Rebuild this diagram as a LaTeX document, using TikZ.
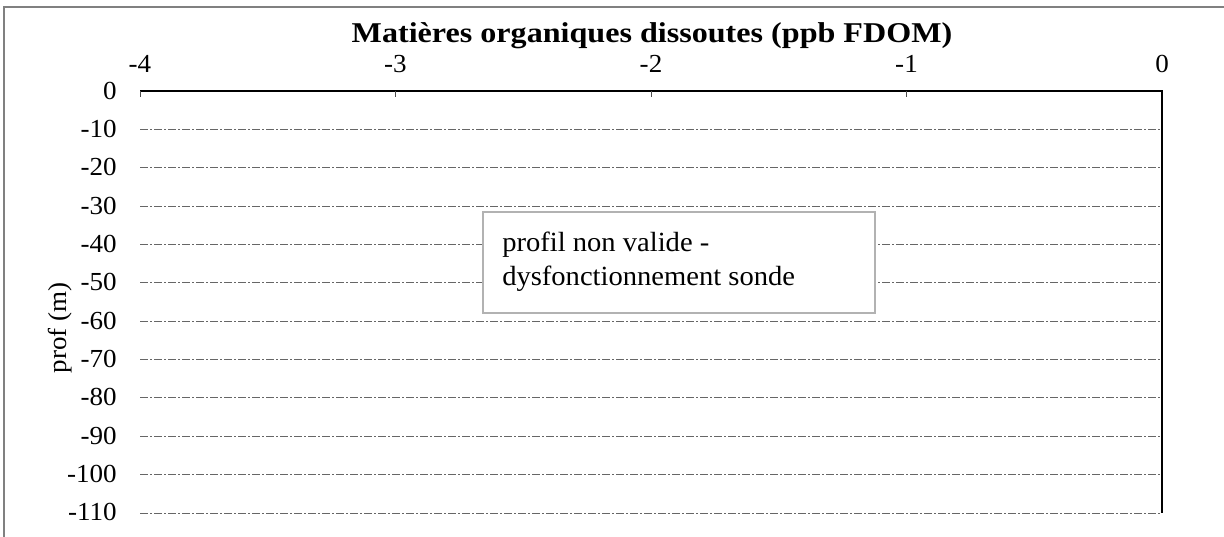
\documentclass[tikz,border=0pt]{standalone}
\usepackage{fontspec}
\setmainfont{Liberation Serif}[FakeStretch=1.04]
\newfontfamily\titlefont{Liberation Serif}[FakeStretch=1.12]
\newfontfamily\boxfont{Liberation Serif}[FakeStretch=1.03]
\begin{document}
\begin{tikzpicture}[x=0.75pt,y=-0.75pt,
  gridline/.style={gray!80!black,line width=0.6pt,dash pattern=on 6pt off 1.5pt on 1.5pt off 1.5pt},
  ticklab/.style={font=\fontsize{19.5}{22}\selectfont,inner sep=0pt},
  axisline/.style={black,line width=0.9pt}]
\useasboundingbox (0,0) rectangle (1224,536);
\fill[white] (0,0) rectangle (1224,536);
% outer frame
\draw[gray,line width=0.8pt] (4,540) -- (4,7) -- (1230,7);
% grid lines
\foreach \i in {1,...,11} {
  \draw[gridline] (140,{91+\i*38.36}) -- (1162,{91+\i*38.36});
}
% axes
\draw[axisline] (140,91) -- (1162,91) -- (1162,513);
\foreach \i in {0,...,3} {
  \draw[gray!60!black,line width=0.6pt] ({140+\i*255.5},91) -- ({140+\i*255.5},97);
}
% x labels
\foreach \v [count=\i from 0] in {-4,-3,-2,-1,0} {
  \node[ticklab,anchor=base] (xl\i) at ({140+\i*255.5},72) {\v};
}
% y labels
\foreach \v [count=\i from 0] in {0,-10,-20,-30,-40,-50,-60,-70,-80,-90,-100,-110} {
  \node[ticklab,anchor=base east] (yl\i) at (117,{91+\i*38.36+8}) {\v};
}
% title
\node[font=\titlefont\fontsize{21.5}{26}\bfseries\selectfont,anchor=base,inner sep=0pt] (title) at (652,42) {Matières organiques dissoutes (ppb FDOM)};
% y axis label
\node[ticklab,rotate=90,anchor=base] (ylab) at (66,328) {prof (m)};
% box
\draw[gray!60,fill=white,line width=0.9pt] (483,212) rectangle (875,313);
\node[font=\boxfont\fontsize{20.8}{25.5}\selectfont,anchor=base west,inner sep=0pt] (note1) at (502,251) {profil non valide -};
\node[font=\boxfont\fontsize{20.8}{25.5}\selectfont,anchor=base west,inner sep=0pt] (note2) at (502,285) {dysfonctionnement sonde};
\end{tikzpicture}
\end{document}
